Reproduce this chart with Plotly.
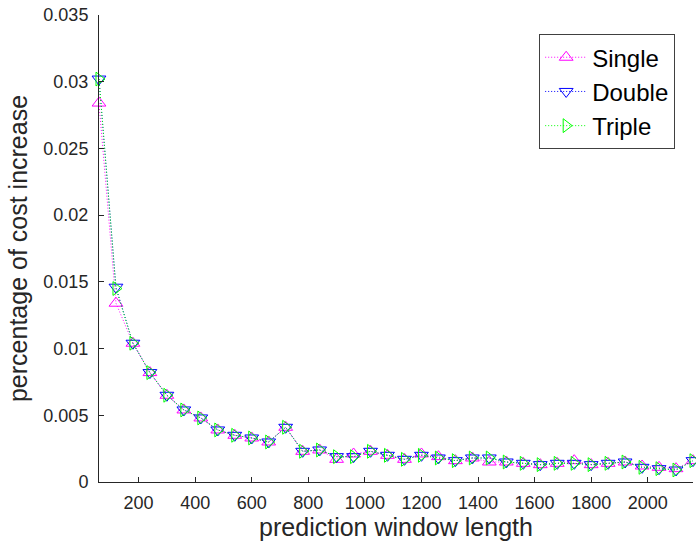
import plotly.graph_objects as go

x = [60 * k for k in range(1, 37)]

single = [0.0284, 0.0134, 0.0104, 0.0082, 0.0065, 0.0054, 0.0048, 0.0039, 0.0035, 0.0033,
          0.0030, 0.0041, 0.0023, 0.0024, 0.0017, 0.0021, 0.0023, 0.0020, 0.0017, 0.0021,
          0.0019, 0.0016, 0.0018, 0.0015, 0.0015, 0.0014, 0.0013, 0.0014, 0.0016, 0.0013,
          0.0014, 0.0015, 0.0012, 0.0011, 0.0010, 0.0016]
double = [0.0302, 0.0146, 0.0104, 0.0082, 0.0065, 0.0054, 0.0048, 0.0039, 0.0035, 0.0033,
          0.0030, 0.0041, 0.0023, 0.0024, 0.0019, 0.0019, 0.0023, 0.0020, 0.0017, 0.0020,
          0.0018, 0.0016, 0.0018, 0.0018, 0.0015, 0.0014, 0.0013, 0.0014, 0.0014, 0.0013,
          0.0014, 0.0015, 0.0011, 0.0010, 0.0009, 0.0016]
triple = [0.0302, 0.0145, 0.0104, 0.0082, 0.0065, 0.0054, 0.0048, 0.0039, 0.0035, 0.0033,
          0.0030, 0.0041, 0.0023, 0.0024, 0.0019, 0.0019, 0.0023, 0.0020, 0.0017, 0.0020,
          0.0018, 0.0016, 0.0018, 0.0018, 0.0015, 0.0014, 0.0013, 0.0014, 0.0014, 0.0013,
          0.0014, 0.0015, 0.0011, 0.0010, 0.0009, 0.0016]

names = ["Single", "Double", "Triple"]
colors = ["#FF00FF", "#0000FF", "#00FF00"]
symbols = ["triangle-up-open", "triangle-down-open", "triangle-right-open"]

y_ticks = [0, 0.005, 0.01, 0.015, 0.02, 0.025, 0.03, 0.035]
y_ticktext = ["0", "0.005", "0.01", "0.015", "0.02", "0.025", "0.03", "0.035"]
x_ticks = [200, 400, 600, 800, 1000, 1200, 1400, 1600, 1800, 2000]

fig = go.Figure()
for name, ys, c, s in zip(names, [single, double, triple], colors, symbols):
    fig.add_trace(go.Scatter(
        x=x, y=ys, name=name, mode="lines+markers",
        line=dict(color=c, width=1, dash="1px,2px"),
        marker=dict(symbol=s, size=12, color=c, line=dict(color=c, width=1)),
        cliponaxis=False,
    ))

axis_color = "#262626"
fig.update_layout(
    width=696, height=546,
    margin=dict(l=99, r=3, t=15, b=64),
    paper_bgcolor="white", plot_bgcolor="white",
    font=dict(family="Liberation Sans, Arial, sans-serif", color=axis_color, size=18),
    showlegend=True,
    legend=dict(
        x=0.970, y=0.959, xanchor="right", yanchor="top",
        bordercolor="#404040", borderwidth=1, bgcolor="white",
        font=dict(size=24, color="black"),
        itemwidth=42, tracegroupgap=0,
    ),
    xaxis=dict(
        range=[60, 2160], tickvals=x_ticks,
        showline=True, linecolor=axis_color, linewidth=1,
        ticks="inside", ticklen=5, tickcolor=axis_color,
        showgrid=False, zeroline=False, mirror=False,
        title=dict(text="prediction window length", font=dict(size=25), standoff=6),
        tickfont=dict(size=18), ticklabelstandoff=4,
    ),
    yaxis=dict(
        range=[0, 0.035], tickvals=y_ticks, ticktext=y_ticktext,
        showline=True, linecolor=axis_color, linewidth=1,
        ticks="inside", ticklen=5, tickcolor=axis_color,
        showgrid=False, zeroline=False, mirror=False,
        title=dict(text="percentage of cost increase", font=dict(size=25), standoff=8),
        tickfont=dict(size=18), ticklabelstandoff=6,
    ),
)

fig.write_html("out.html")
